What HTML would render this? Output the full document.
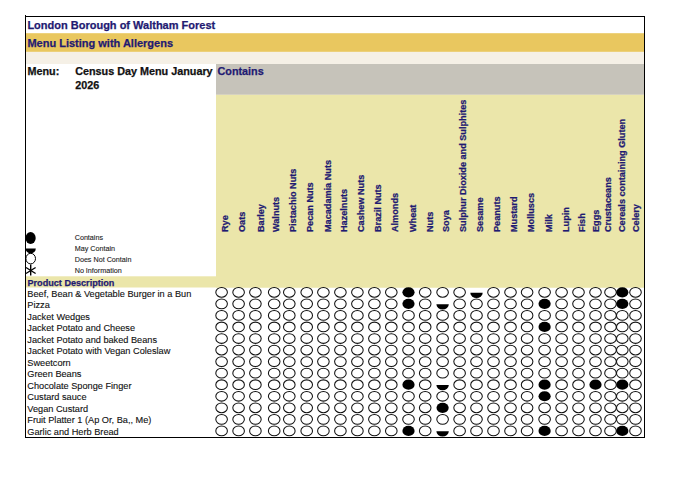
<!DOCTYPE html>
<html><head><meta charset="utf-8"><style>
html,body{margin:0;padding:0;background:#fff;}
body{width:690px;height:498px;overflow:hidden;position:relative;}
svg{position:absolute;left:0;top:0;}
text{font-family:"Liberation Sans",sans-serif;}
.b{stroke-width:0.25px;}
</style></head><body>
<svg width="690" height="498" viewBox="0 0 690 498">

<rect x="25" y="33.2" width="620" height="18.7" fill="#e9c75f"/>
<rect x="25" y="51.9" width="620" height="12.1" fill="#f5f0e6"/>
<rect x="216" y="64" width="429" height="30.8" fill="#c6c3ba"/>
<rect x="216" y="94.8" width="429" height="192.7" fill="#ebe6aa"/>
<rect x="25" y="276.3" width="620" height="11.2" fill="#ebe6aa"/>
<rect x="25" y="16" width="620" height="1" fill="#000"/>
<rect x="25" y="15" width="1" height="423" fill="#000"/>
<rect x="644" y="16" width="1" height="422" fill="#000"/>
<rect x="25" y="437" width="620" height="1" fill="#000"/>
<text x="27.4" y="28.7" font-size="11" font-weight="bold" stroke="#1f1a72" stroke-width="0.25" fill="#1f1a72">London Borough of Waltham Forest</text>
<text x="27.4" y="46.5" font-size="11" font-weight="bold" stroke="#1f1a72" stroke-width="0.25" fill="#1f1a72">Menu Listing with Allergens</text>
<text x="27.5" y="74.8" font-size="10.8" font-weight="bold" stroke="#111" stroke-width="0.25" fill="#111">Menu:</text>
<text x="75.2" y="74.8" font-size="10.8" font-weight="bold" stroke="#111" stroke-width="0.25" fill="#111">Census Day Menu January</text>
<text x="75.2" y="89" font-size="10.8" font-weight="bold" stroke="#111" stroke-width="0.25" fill="#111">2026</text>
<text x="217.5" y="74.9" font-size="10.8" font-weight="bold" stroke="#1f1a72" stroke-width="0.25" fill="#1f1a72">Contains</text>
<text transform="translate(227.95,232) rotate(-90)" font-size="9.15" font-weight="bold" stroke="#1f1a72" stroke-width="0.25" fill="#1f1a72">Rye</text>
<text transform="translate(244.65,232) rotate(-90)" font-size="9.15" font-weight="bold" stroke="#1f1a72" stroke-width="0.25" fill="#1f1a72">Oats</text>
<text transform="translate(263.55,232) rotate(-90)" font-size="9.15" font-weight="bold" stroke="#1f1a72" stroke-width="0.25" fill="#1f1a72">Barley</text>
<text transform="translate(279.25,232) rotate(-90)" font-size="9.15" font-weight="bold" stroke="#1f1a72" stroke-width="0.25" fill="#1f1a72">Walnuts</text>
<text transform="translate(296.05,232) rotate(-90)" font-size="9.15" font-weight="bold" stroke="#1f1a72" stroke-width="0.25" fill="#1f1a72">Pistachio Nuts</text>
<text transform="translate(313.25,232) rotate(-90)" font-size="9.15" font-weight="bold" stroke="#1f1a72" stroke-width="0.25" fill="#1f1a72">Pecan Nuts</text>
<text transform="translate(330.55,232) rotate(-90)" font-size="9.15" font-weight="bold" stroke="#1f1a72" stroke-width="0.25" fill="#1f1a72">Macadamia Nuts</text>
<text transform="translate(347.35,232) rotate(-90)" font-size="9.15" font-weight="bold" stroke="#1f1a72" stroke-width="0.25" fill="#1f1a72">Hazelnuts</text>
<text transform="translate(364.35,232) rotate(-90)" font-size="9.15" font-weight="bold" stroke="#1f1a72" stroke-width="0.25" fill="#1f1a72">Cashew Nuts</text>
<text transform="translate(381.45,232) rotate(-90)" font-size="9.15" font-weight="bold" stroke="#1f1a72" stroke-width="0.25" fill="#1f1a72">Brazil Nuts</text>
<text transform="translate(398.25,232) rotate(-90)" font-size="9.15" font-weight="bold" stroke="#1f1a72" stroke-width="0.25" fill="#1f1a72">Almonds</text>
<text transform="translate(415.55,232) rotate(-90)" font-size="9.15" font-weight="bold" stroke="#1f1a72" stroke-width="0.25" fill="#1f1a72">Wheat</text>
<text transform="translate(432.55,232) rotate(-90)" font-size="9.15" font-weight="bold" stroke="#1f1a72" stroke-width="0.25" fill="#1f1a72">Nuts</text>
<text transform="translate(449.25,232) rotate(-90)" font-size="9.15" font-weight="bold" stroke="#1f1a72" stroke-width="0.25" fill="#1f1a72">Soya</text>
<text transform="translate(466.15,232) rotate(-90)" font-size="9.15" font-weight="bold" stroke="#1f1a72" stroke-width="0.25" fill="#1f1a72">Sulphur Dioxide and Sulphites</text>
<text transform="translate(483.05,232) rotate(-90)" font-size="9.15" font-weight="bold" stroke="#1f1a72" stroke-width="0.25" fill="#1f1a72">Sesame</text>
<text transform="translate(499.95,232) rotate(-90)" font-size="9.15" font-weight="bold" stroke="#1f1a72" stroke-width="0.25" fill="#1f1a72">Peanuts</text>
<text transform="translate(517.05,232) rotate(-90)" font-size="9.15" font-weight="bold" stroke="#1f1a72" stroke-width="0.25" fill="#1f1a72">Mustard</text>
<text transform="translate(534.35,232) rotate(-90)" font-size="9.15" font-weight="bold" stroke="#1f1a72" stroke-width="0.25" fill="#1f1a72">Molluscs</text>
<text transform="translate(551.65,232) rotate(-90)" font-size="9.15" font-weight="bold" stroke="#1f1a72" stroke-width="0.25" fill="#1f1a72">Milk</text>
<text transform="translate(568.55,232) rotate(-90)" font-size="9.15" font-weight="bold" stroke="#1f1a72" stroke-width="0.25" fill="#1f1a72">Lupin</text>
<text transform="translate(585.05,232) rotate(-90)" font-size="9.15" font-weight="bold" stroke="#1f1a72" stroke-width="0.25" fill="#1f1a72">Fish</text>
<text transform="translate(599.15,232) rotate(-90)" font-size="9.15" font-weight="bold" stroke="#1f1a72" stroke-width="0.25" fill="#1f1a72">Eggs</text>
<text transform="translate(610.95,232) rotate(-90)" font-size="9.15" font-weight="bold" stroke="#1f1a72" stroke-width="0.25" fill="#1f1a72">Crustaceans</text>
<text transform="translate(624.95,232) rotate(-90)" font-size="9.15" font-weight="bold" stroke="#1f1a72" stroke-width="0.25" fill="#1f1a72">Cereals containing Gluten</text>
<text transform="translate(639.25,232) rotate(-90)" font-size="9.15" font-weight="bold" stroke="#1f1a72" stroke-width="0.25" fill="#1f1a72">Celery</text>
<ellipse cx="30.6" cy="238" rx="5.1" ry="5.9" fill="#000"/>
<path d="M25.6 248.5 L35.8 248.5 A5.1 4.9 0 0 1 25.6 248.5 Z" fill="#000"/>
<ellipse cx="30.7" cy="258.6" rx="4.8" ry="5.3" fill="none" stroke="#000" stroke-width="1"/>
<g stroke="#000" stroke-width="1.4"><line x1="30.7" y1="264.5" x2="30.7" y2="275.5"/><line x1="26" y1="267.5" x2="35.6" y2="273.5"/><line x1="26" y1="273.5" x2="35.6" y2="267.5"/></g>
<text x="74.7" y="240.0" font-size="7.2" fill="#222" stroke="#222" stroke-width="0.1">Contains</text>
<text x="74.7" y="251.0" font-size="7.2" fill="#222" stroke="#222" stroke-width="0.1">May Contain</text>
<text x="74.7" y="262.0" font-size="7.2" fill="#222" stroke="#222" stroke-width="0.1">Does Not Contain</text>
<text x="74.7" y="273.0" font-size="7.2" fill="#222" stroke="#222" stroke-width="0.1">No Information</text>
<text x="27.5" y="285.7" font-size="9.1" font-weight="bold" stroke="#1f1a72" stroke-width="0.25" fill="#1f1a72">Product Description</text>
<text x="27.3" y="296.70" font-size="9.2" fill="#111" stroke="#111" stroke-width="0.12">Beef, Bean &amp; Vegetable Burger in a Bun</text>
<ellipse cx="221.6" cy="292.30" rx="5.8" ry="4.85" fill="none" stroke="#111" stroke-width="1.05"/>
<ellipse cx="238.6" cy="292.30" rx="5.8" ry="4.85" fill="none" stroke="#111" stroke-width="1.05"/>
<ellipse cx="255.4" cy="292.30" rx="5.8" ry="4.85" fill="none" stroke="#111" stroke-width="1.05"/>
<ellipse cx="274.2" cy="292.30" rx="5.8" ry="4.85" fill="none" stroke="#111" stroke-width="1.05"/>
<ellipse cx="289.3" cy="292.30" rx="5.8" ry="4.85" fill="none" stroke="#111" stroke-width="1.05"/>
<ellipse cx="306.7" cy="292.30" rx="5.8" ry="4.85" fill="none" stroke="#111" stroke-width="1.05"/>
<ellipse cx="323.4" cy="292.30" rx="5.8" ry="4.85" fill="none" stroke="#111" stroke-width="1.05"/>
<ellipse cx="340.4" cy="292.30" rx="5.8" ry="4.85" fill="none" stroke="#111" stroke-width="1.05"/>
<ellipse cx="357.4" cy="292.30" rx="5.8" ry="4.85" fill="none" stroke="#111" stroke-width="1.05"/>
<ellipse cx="374.4" cy="292.30" rx="5.8" ry="4.85" fill="none" stroke="#111" stroke-width="1.05"/>
<ellipse cx="391.3" cy="292.30" rx="5.8" ry="4.85" fill="none" stroke="#111" stroke-width="1.05"/>
<ellipse cx="408.5" cy="292.30" rx="6.1" ry="5.1" fill="#000"/>
<ellipse cx="425.2" cy="292.30" rx="5.8" ry="4.85" fill="none" stroke="#111" stroke-width="1.05"/>
<ellipse cx="442.6" cy="292.30" rx="5.8" ry="4.85" fill="none" stroke="#111" stroke-width="1.05"/>
<ellipse cx="459.6" cy="292.30" rx="5.8" ry="4.85" fill="none" stroke="#111" stroke-width="1.05"/>
<path d="M470.30 292.70 L482.70 292.70 A6.2 5.2 0 0 1 470.30 292.70 Z" fill="#000"/>
<ellipse cx="493.5" cy="292.30" rx="5.8" ry="4.85" fill="none" stroke="#111" stroke-width="1.05"/>
<ellipse cx="510.5" cy="292.30" rx="5.8" ry="4.85" fill="none" stroke="#111" stroke-width="1.05"/>
<ellipse cx="527.1" cy="292.30" rx="5.8" ry="4.85" fill="none" stroke="#111" stroke-width="1.05"/>
<ellipse cx="544.6" cy="292.30" rx="5.8" ry="4.85" fill="none" stroke="#111" stroke-width="1.05"/>
<ellipse cx="561.6" cy="292.30" rx="5.8" ry="4.85" fill="none" stroke="#111" stroke-width="1.05"/>
<ellipse cx="578.5" cy="292.30" rx="5.8" ry="4.85" fill="none" stroke="#111" stroke-width="1.05"/>
<ellipse cx="595.5" cy="292.30" rx="5.8" ry="4.85" fill="none" stroke="#111" stroke-width="1.05"/>
<ellipse cx="610.5" cy="292.30" rx="5.8" ry="4.85" fill="none" stroke="#111" stroke-width="1.05"/>
<ellipse cx="622.3" cy="292.30" rx="6.1" ry="5.1" fill="#000"/>
<ellipse cx="635.5" cy="292.30" rx="5.8" ry="4.85" fill="none" stroke="#111" stroke-width="1.05"/>
<text x="27.3" y="307.60" font-size="9.2" fill="#111" stroke="#111" stroke-width="0.12">Pizza</text>
<ellipse cx="221.6" cy="303.85" rx="5.8" ry="4.85" fill="none" stroke="#111" stroke-width="1.05"/>
<ellipse cx="238.6" cy="303.85" rx="5.8" ry="4.85" fill="none" stroke="#111" stroke-width="1.05"/>
<ellipse cx="255.4" cy="303.85" rx="5.8" ry="4.85" fill="none" stroke="#111" stroke-width="1.05"/>
<ellipse cx="274.2" cy="303.85" rx="5.8" ry="4.85" fill="none" stroke="#111" stroke-width="1.05"/>
<ellipse cx="289.3" cy="303.85" rx="5.8" ry="4.85" fill="none" stroke="#111" stroke-width="1.05"/>
<ellipse cx="306.7" cy="303.85" rx="5.8" ry="4.85" fill="none" stroke="#111" stroke-width="1.05"/>
<ellipse cx="323.4" cy="303.85" rx="5.8" ry="4.85" fill="none" stroke="#111" stroke-width="1.05"/>
<ellipse cx="340.4" cy="303.85" rx="5.8" ry="4.85" fill="none" stroke="#111" stroke-width="1.05"/>
<ellipse cx="357.4" cy="303.85" rx="5.8" ry="4.85" fill="none" stroke="#111" stroke-width="1.05"/>
<ellipse cx="374.4" cy="303.85" rx="5.8" ry="4.85" fill="none" stroke="#111" stroke-width="1.05"/>
<ellipse cx="391.3" cy="303.85" rx="5.8" ry="4.85" fill="none" stroke="#111" stroke-width="1.05"/>
<ellipse cx="408.5" cy="303.85" rx="6.1" ry="5.1" fill="#000"/>
<ellipse cx="425.2" cy="303.85" rx="5.8" ry="4.85" fill="none" stroke="#111" stroke-width="1.05"/>
<path d="M436.40 304.25 L448.80 304.25 A6.2 5.2 0 0 1 436.40 304.25 Z" fill="#000"/>
<ellipse cx="459.6" cy="303.85" rx="5.8" ry="4.85" fill="none" stroke="#111" stroke-width="1.05"/>
<ellipse cx="476.5" cy="303.85" rx="5.8" ry="4.85" fill="none" stroke="#111" stroke-width="1.05"/>
<ellipse cx="493.5" cy="303.85" rx="5.8" ry="4.85" fill="none" stroke="#111" stroke-width="1.05"/>
<ellipse cx="510.5" cy="303.85" rx="5.8" ry="4.85" fill="none" stroke="#111" stroke-width="1.05"/>
<ellipse cx="527.1" cy="303.85" rx="5.8" ry="4.85" fill="none" stroke="#111" stroke-width="1.05"/>
<ellipse cx="544.6" cy="303.85" rx="6.1" ry="5.1" fill="#000"/>
<ellipse cx="561.6" cy="303.85" rx="5.8" ry="4.85" fill="none" stroke="#111" stroke-width="1.05"/>
<ellipse cx="578.5" cy="303.85" rx="5.8" ry="4.85" fill="none" stroke="#111" stroke-width="1.05"/>
<ellipse cx="595.5" cy="303.85" rx="5.8" ry="4.85" fill="none" stroke="#111" stroke-width="1.05"/>
<ellipse cx="610.5" cy="303.85" rx="5.8" ry="4.85" fill="none" stroke="#111" stroke-width="1.05"/>
<ellipse cx="622.3" cy="303.85" rx="6.1" ry="5.1" fill="#000"/>
<ellipse cx="635.5" cy="303.85" rx="5.8" ry="4.85" fill="none" stroke="#111" stroke-width="1.05"/>
<text x="27.3" y="319.50" font-size="9.2" fill="#111" stroke="#111" stroke-width="0.12">Jacket Wedges</text>
<ellipse cx="221.6" cy="315.40" rx="5.8" ry="4.85" fill="none" stroke="#111" stroke-width="1.05"/>
<ellipse cx="238.6" cy="315.40" rx="5.8" ry="4.85" fill="none" stroke="#111" stroke-width="1.05"/>
<ellipse cx="255.4" cy="315.40" rx="5.8" ry="4.85" fill="none" stroke="#111" stroke-width="1.05"/>
<ellipse cx="274.2" cy="315.40" rx="5.8" ry="4.85" fill="none" stroke="#111" stroke-width="1.05"/>
<ellipse cx="289.3" cy="315.40" rx="5.8" ry="4.85" fill="none" stroke="#111" stroke-width="1.05"/>
<ellipse cx="306.7" cy="315.40" rx="5.8" ry="4.85" fill="none" stroke="#111" stroke-width="1.05"/>
<ellipse cx="323.4" cy="315.40" rx="5.8" ry="4.85" fill="none" stroke="#111" stroke-width="1.05"/>
<ellipse cx="340.4" cy="315.40" rx="5.8" ry="4.85" fill="none" stroke="#111" stroke-width="1.05"/>
<ellipse cx="357.4" cy="315.40" rx="5.8" ry="4.85" fill="none" stroke="#111" stroke-width="1.05"/>
<ellipse cx="374.4" cy="315.40" rx="5.8" ry="4.85" fill="none" stroke="#111" stroke-width="1.05"/>
<ellipse cx="391.3" cy="315.40" rx="5.8" ry="4.85" fill="none" stroke="#111" stroke-width="1.05"/>
<ellipse cx="408.5" cy="315.40" rx="5.8" ry="4.85" fill="none" stroke="#111" stroke-width="1.05"/>
<ellipse cx="425.2" cy="315.40" rx="5.8" ry="4.85" fill="none" stroke="#111" stroke-width="1.05"/>
<ellipse cx="442.6" cy="315.40" rx="5.8" ry="4.85" fill="none" stroke="#111" stroke-width="1.05"/>
<ellipse cx="459.6" cy="315.40" rx="5.8" ry="4.85" fill="none" stroke="#111" stroke-width="1.05"/>
<ellipse cx="476.5" cy="315.40" rx="5.8" ry="4.85" fill="none" stroke="#111" stroke-width="1.05"/>
<ellipse cx="493.5" cy="315.40" rx="5.8" ry="4.85" fill="none" stroke="#111" stroke-width="1.05"/>
<ellipse cx="510.5" cy="315.40" rx="5.8" ry="4.85" fill="none" stroke="#111" stroke-width="1.05"/>
<ellipse cx="527.1" cy="315.40" rx="5.8" ry="4.85" fill="none" stroke="#111" stroke-width="1.05"/>
<ellipse cx="544.6" cy="315.40" rx="5.8" ry="4.85" fill="none" stroke="#111" stroke-width="1.05"/>
<ellipse cx="561.6" cy="315.40" rx="5.8" ry="4.85" fill="none" stroke="#111" stroke-width="1.05"/>
<ellipse cx="578.5" cy="315.40" rx="5.8" ry="4.85" fill="none" stroke="#111" stroke-width="1.05"/>
<ellipse cx="595.5" cy="315.40" rx="5.8" ry="4.85" fill="none" stroke="#111" stroke-width="1.05"/>
<ellipse cx="610.5" cy="315.40" rx="5.8" ry="4.85" fill="none" stroke="#111" stroke-width="1.05"/>
<ellipse cx="622.3" cy="315.40" rx="5.8" ry="4.85" fill="none" stroke="#111" stroke-width="1.05"/>
<ellipse cx="635.5" cy="315.40" rx="5.8" ry="4.85" fill="none" stroke="#111" stroke-width="1.05"/>
<text x="27.3" y="330.50" font-size="9.2" fill="#111" stroke="#111" stroke-width="0.12">Jacket Potato and Cheese</text>
<ellipse cx="221.6" cy="326.95" rx="5.8" ry="4.85" fill="none" stroke="#111" stroke-width="1.05"/>
<ellipse cx="238.6" cy="326.95" rx="5.8" ry="4.85" fill="none" stroke="#111" stroke-width="1.05"/>
<ellipse cx="255.4" cy="326.95" rx="5.8" ry="4.85" fill="none" stroke="#111" stroke-width="1.05"/>
<ellipse cx="274.2" cy="326.95" rx="5.8" ry="4.85" fill="none" stroke="#111" stroke-width="1.05"/>
<ellipse cx="289.3" cy="326.95" rx="5.8" ry="4.85" fill="none" stroke="#111" stroke-width="1.05"/>
<ellipse cx="306.7" cy="326.95" rx="5.8" ry="4.85" fill="none" stroke="#111" stroke-width="1.05"/>
<ellipse cx="323.4" cy="326.95" rx="5.8" ry="4.85" fill="none" stroke="#111" stroke-width="1.05"/>
<ellipse cx="340.4" cy="326.95" rx="5.8" ry="4.85" fill="none" stroke="#111" stroke-width="1.05"/>
<ellipse cx="357.4" cy="326.95" rx="5.8" ry="4.85" fill="none" stroke="#111" stroke-width="1.05"/>
<ellipse cx="374.4" cy="326.95" rx="5.8" ry="4.85" fill="none" stroke="#111" stroke-width="1.05"/>
<ellipse cx="391.3" cy="326.95" rx="5.8" ry="4.85" fill="none" stroke="#111" stroke-width="1.05"/>
<ellipse cx="408.5" cy="326.95" rx="5.8" ry="4.85" fill="none" stroke="#111" stroke-width="1.05"/>
<ellipse cx="425.2" cy="326.95" rx="5.8" ry="4.85" fill="none" stroke="#111" stroke-width="1.05"/>
<ellipse cx="442.6" cy="326.95" rx="5.8" ry="4.85" fill="none" stroke="#111" stroke-width="1.05"/>
<ellipse cx="459.6" cy="326.95" rx="5.8" ry="4.85" fill="none" stroke="#111" stroke-width="1.05"/>
<ellipse cx="476.5" cy="326.95" rx="5.8" ry="4.85" fill="none" stroke="#111" stroke-width="1.05"/>
<ellipse cx="493.5" cy="326.95" rx="5.8" ry="4.85" fill="none" stroke="#111" stroke-width="1.05"/>
<ellipse cx="510.5" cy="326.95" rx="5.8" ry="4.85" fill="none" stroke="#111" stroke-width="1.05"/>
<ellipse cx="527.1" cy="326.95" rx="5.8" ry="4.85" fill="none" stroke="#111" stroke-width="1.05"/>
<ellipse cx="544.6" cy="326.95" rx="6.1" ry="5.1" fill="#000"/>
<ellipse cx="561.6" cy="326.95" rx="5.8" ry="4.85" fill="none" stroke="#111" stroke-width="1.05"/>
<ellipse cx="578.5" cy="326.95" rx="5.8" ry="4.85" fill="none" stroke="#111" stroke-width="1.05"/>
<ellipse cx="595.5" cy="326.95" rx="5.8" ry="4.85" fill="none" stroke="#111" stroke-width="1.05"/>
<ellipse cx="610.5" cy="326.95" rx="5.8" ry="4.85" fill="none" stroke="#111" stroke-width="1.05"/>
<ellipse cx="622.3" cy="326.95" rx="5.8" ry="4.85" fill="none" stroke="#111" stroke-width="1.05"/>
<ellipse cx="635.5" cy="326.95" rx="5.8" ry="4.85" fill="none" stroke="#111" stroke-width="1.05"/>
<text x="27.3" y="342.50" font-size="9.2" fill="#111" stroke="#111" stroke-width="0.12">Jacket Potato and baked Beans</text>
<ellipse cx="221.6" cy="338.50" rx="5.8" ry="4.85" fill="none" stroke="#111" stroke-width="1.05"/>
<ellipse cx="238.6" cy="338.50" rx="5.8" ry="4.85" fill="none" stroke="#111" stroke-width="1.05"/>
<ellipse cx="255.4" cy="338.50" rx="5.8" ry="4.85" fill="none" stroke="#111" stroke-width="1.05"/>
<ellipse cx="274.2" cy="338.50" rx="5.8" ry="4.85" fill="none" stroke="#111" stroke-width="1.05"/>
<ellipse cx="289.3" cy="338.50" rx="5.8" ry="4.85" fill="none" stroke="#111" stroke-width="1.05"/>
<ellipse cx="306.7" cy="338.50" rx="5.8" ry="4.85" fill="none" stroke="#111" stroke-width="1.05"/>
<ellipse cx="323.4" cy="338.50" rx="5.8" ry="4.85" fill="none" stroke="#111" stroke-width="1.05"/>
<ellipse cx="340.4" cy="338.50" rx="5.8" ry="4.85" fill="none" stroke="#111" stroke-width="1.05"/>
<ellipse cx="357.4" cy="338.50" rx="5.8" ry="4.85" fill="none" stroke="#111" stroke-width="1.05"/>
<ellipse cx="374.4" cy="338.50" rx="5.8" ry="4.85" fill="none" stroke="#111" stroke-width="1.05"/>
<ellipse cx="391.3" cy="338.50" rx="5.8" ry="4.85" fill="none" stroke="#111" stroke-width="1.05"/>
<ellipse cx="408.5" cy="338.50" rx="5.8" ry="4.85" fill="none" stroke="#111" stroke-width="1.05"/>
<ellipse cx="425.2" cy="338.50" rx="5.8" ry="4.85" fill="none" stroke="#111" stroke-width="1.05"/>
<ellipse cx="442.6" cy="338.50" rx="5.8" ry="4.85" fill="none" stroke="#111" stroke-width="1.05"/>
<ellipse cx="459.6" cy="338.50" rx="5.8" ry="4.85" fill="none" stroke="#111" stroke-width="1.05"/>
<ellipse cx="476.5" cy="338.50" rx="5.8" ry="4.85" fill="none" stroke="#111" stroke-width="1.05"/>
<ellipse cx="493.5" cy="338.50" rx="5.8" ry="4.85" fill="none" stroke="#111" stroke-width="1.05"/>
<ellipse cx="510.5" cy="338.50" rx="5.8" ry="4.85" fill="none" stroke="#111" stroke-width="1.05"/>
<ellipse cx="527.1" cy="338.50" rx="5.8" ry="4.85" fill="none" stroke="#111" stroke-width="1.05"/>
<ellipse cx="544.6" cy="338.50" rx="5.8" ry="4.85" fill="none" stroke="#111" stroke-width="1.05"/>
<ellipse cx="561.6" cy="338.50" rx="5.8" ry="4.85" fill="none" stroke="#111" stroke-width="1.05"/>
<ellipse cx="578.5" cy="338.50" rx="5.8" ry="4.85" fill="none" stroke="#111" stroke-width="1.05"/>
<ellipse cx="595.5" cy="338.50" rx="5.8" ry="4.85" fill="none" stroke="#111" stroke-width="1.05"/>
<ellipse cx="610.5" cy="338.50" rx="5.8" ry="4.85" fill="none" stroke="#111" stroke-width="1.05"/>
<ellipse cx="622.3" cy="338.50" rx="5.8" ry="4.85" fill="none" stroke="#111" stroke-width="1.05"/>
<ellipse cx="635.5" cy="338.50" rx="5.8" ry="4.85" fill="none" stroke="#111" stroke-width="1.05"/>
<text x="27.3" y="353.80" font-size="9.2" fill="#111" stroke="#111" stroke-width="0.12">Jacket Potato with Vegan Coleslaw</text>
<ellipse cx="221.6" cy="350.05" rx="5.8" ry="4.85" fill="none" stroke="#111" stroke-width="1.05"/>
<ellipse cx="238.6" cy="350.05" rx="5.8" ry="4.85" fill="none" stroke="#111" stroke-width="1.05"/>
<ellipse cx="255.4" cy="350.05" rx="5.8" ry="4.85" fill="none" stroke="#111" stroke-width="1.05"/>
<ellipse cx="274.2" cy="350.05" rx="5.8" ry="4.85" fill="none" stroke="#111" stroke-width="1.05"/>
<ellipse cx="289.3" cy="350.05" rx="5.8" ry="4.85" fill="none" stroke="#111" stroke-width="1.05"/>
<ellipse cx="306.7" cy="350.05" rx="5.8" ry="4.85" fill="none" stroke="#111" stroke-width="1.05"/>
<ellipse cx="323.4" cy="350.05" rx="5.8" ry="4.85" fill="none" stroke="#111" stroke-width="1.05"/>
<ellipse cx="340.4" cy="350.05" rx="5.8" ry="4.85" fill="none" stroke="#111" stroke-width="1.05"/>
<ellipse cx="357.4" cy="350.05" rx="5.8" ry="4.85" fill="none" stroke="#111" stroke-width="1.05"/>
<ellipse cx="374.4" cy="350.05" rx="5.8" ry="4.85" fill="none" stroke="#111" stroke-width="1.05"/>
<ellipse cx="391.3" cy="350.05" rx="5.8" ry="4.85" fill="none" stroke="#111" stroke-width="1.05"/>
<ellipse cx="408.5" cy="350.05" rx="5.8" ry="4.85" fill="none" stroke="#111" stroke-width="1.05"/>
<ellipse cx="425.2" cy="350.05" rx="5.8" ry="4.85" fill="none" stroke="#111" stroke-width="1.05"/>
<ellipse cx="442.6" cy="350.05" rx="5.8" ry="4.85" fill="none" stroke="#111" stroke-width="1.05"/>
<ellipse cx="459.6" cy="350.05" rx="5.8" ry="4.85" fill="none" stroke="#111" stroke-width="1.05"/>
<ellipse cx="476.5" cy="350.05" rx="5.8" ry="4.85" fill="none" stroke="#111" stroke-width="1.05"/>
<ellipse cx="493.5" cy="350.05" rx="5.8" ry="4.85" fill="none" stroke="#111" stroke-width="1.05"/>
<ellipse cx="510.5" cy="350.05" rx="5.8" ry="4.85" fill="none" stroke="#111" stroke-width="1.05"/>
<ellipse cx="527.1" cy="350.05" rx="5.8" ry="4.85" fill="none" stroke="#111" stroke-width="1.05"/>
<ellipse cx="544.6" cy="350.05" rx="5.8" ry="4.85" fill="none" stroke="#111" stroke-width="1.05"/>
<ellipse cx="561.6" cy="350.05" rx="5.8" ry="4.85" fill="none" stroke="#111" stroke-width="1.05"/>
<ellipse cx="578.5" cy="350.05" rx="5.8" ry="4.85" fill="none" stroke="#111" stroke-width="1.05"/>
<ellipse cx="595.5" cy="350.05" rx="5.8" ry="4.85" fill="none" stroke="#111" stroke-width="1.05"/>
<ellipse cx="610.5" cy="350.05" rx="5.8" ry="4.85" fill="none" stroke="#111" stroke-width="1.05"/>
<ellipse cx="622.3" cy="350.05" rx="5.8" ry="4.85" fill="none" stroke="#111" stroke-width="1.05"/>
<ellipse cx="635.5" cy="350.05" rx="5.8" ry="4.85" fill="none" stroke="#111" stroke-width="1.05"/>
<text x="27.3" y="365.50" font-size="9.2" fill="#111" stroke="#111" stroke-width="0.12">Sweetcorn</text>
<ellipse cx="221.6" cy="361.60" rx="5.8" ry="4.85" fill="none" stroke="#111" stroke-width="1.05"/>
<ellipse cx="238.6" cy="361.60" rx="5.8" ry="4.85" fill="none" stroke="#111" stroke-width="1.05"/>
<ellipse cx="255.4" cy="361.60" rx="5.8" ry="4.85" fill="none" stroke="#111" stroke-width="1.05"/>
<ellipse cx="274.2" cy="361.60" rx="5.8" ry="4.85" fill="none" stroke="#111" stroke-width="1.05"/>
<ellipse cx="289.3" cy="361.60" rx="5.8" ry="4.85" fill="none" stroke="#111" stroke-width="1.05"/>
<ellipse cx="306.7" cy="361.60" rx="5.8" ry="4.85" fill="none" stroke="#111" stroke-width="1.05"/>
<ellipse cx="323.4" cy="361.60" rx="5.8" ry="4.85" fill="none" stroke="#111" stroke-width="1.05"/>
<ellipse cx="340.4" cy="361.60" rx="5.8" ry="4.85" fill="none" stroke="#111" stroke-width="1.05"/>
<ellipse cx="357.4" cy="361.60" rx="5.8" ry="4.85" fill="none" stroke="#111" stroke-width="1.05"/>
<ellipse cx="374.4" cy="361.60" rx="5.8" ry="4.85" fill="none" stroke="#111" stroke-width="1.05"/>
<ellipse cx="391.3" cy="361.60" rx="5.8" ry="4.85" fill="none" stroke="#111" stroke-width="1.05"/>
<ellipse cx="408.5" cy="361.60" rx="5.8" ry="4.85" fill="none" stroke="#111" stroke-width="1.05"/>
<ellipse cx="425.2" cy="361.60" rx="5.8" ry="4.85" fill="none" stroke="#111" stroke-width="1.05"/>
<ellipse cx="442.6" cy="361.60" rx="5.8" ry="4.85" fill="none" stroke="#111" stroke-width="1.05"/>
<ellipse cx="459.6" cy="361.60" rx="5.8" ry="4.85" fill="none" stroke="#111" stroke-width="1.05"/>
<ellipse cx="476.5" cy="361.60" rx="5.8" ry="4.85" fill="none" stroke="#111" stroke-width="1.05"/>
<ellipse cx="493.5" cy="361.60" rx="5.8" ry="4.85" fill="none" stroke="#111" stroke-width="1.05"/>
<ellipse cx="510.5" cy="361.60" rx="5.8" ry="4.85" fill="none" stroke="#111" stroke-width="1.05"/>
<ellipse cx="527.1" cy="361.60" rx="5.8" ry="4.85" fill="none" stroke="#111" stroke-width="1.05"/>
<ellipse cx="544.6" cy="361.60" rx="5.8" ry="4.85" fill="none" stroke="#111" stroke-width="1.05"/>
<ellipse cx="561.6" cy="361.60" rx="5.8" ry="4.85" fill="none" stroke="#111" stroke-width="1.05"/>
<ellipse cx="578.5" cy="361.60" rx="5.8" ry="4.85" fill="none" stroke="#111" stroke-width="1.05"/>
<ellipse cx="595.5" cy="361.60" rx="5.8" ry="4.85" fill="none" stroke="#111" stroke-width="1.05"/>
<ellipse cx="610.5" cy="361.60" rx="5.8" ry="4.85" fill="none" stroke="#111" stroke-width="1.05"/>
<ellipse cx="622.3" cy="361.60" rx="5.8" ry="4.85" fill="none" stroke="#111" stroke-width="1.05"/>
<ellipse cx="635.5" cy="361.60" rx="5.8" ry="4.85" fill="none" stroke="#111" stroke-width="1.05"/>
<text x="27.3" y="376.70" font-size="9.2" fill="#111" stroke="#111" stroke-width="0.12">Green Beans</text>
<ellipse cx="221.6" cy="373.15" rx="5.8" ry="4.85" fill="none" stroke="#111" stroke-width="1.05"/>
<ellipse cx="238.6" cy="373.15" rx="5.8" ry="4.85" fill="none" stroke="#111" stroke-width="1.05"/>
<ellipse cx="255.4" cy="373.15" rx="5.8" ry="4.85" fill="none" stroke="#111" stroke-width="1.05"/>
<ellipse cx="274.2" cy="373.15" rx="5.8" ry="4.85" fill="none" stroke="#111" stroke-width="1.05"/>
<ellipse cx="289.3" cy="373.15" rx="5.8" ry="4.85" fill="none" stroke="#111" stroke-width="1.05"/>
<ellipse cx="306.7" cy="373.15" rx="5.8" ry="4.85" fill="none" stroke="#111" stroke-width="1.05"/>
<ellipse cx="323.4" cy="373.15" rx="5.8" ry="4.85" fill="none" stroke="#111" stroke-width="1.05"/>
<ellipse cx="340.4" cy="373.15" rx="5.8" ry="4.85" fill="none" stroke="#111" stroke-width="1.05"/>
<ellipse cx="357.4" cy="373.15" rx="5.8" ry="4.85" fill="none" stroke="#111" stroke-width="1.05"/>
<ellipse cx="374.4" cy="373.15" rx="5.8" ry="4.85" fill="none" stroke="#111" stroke-width="1.05"/>
<ellipse cx="391.3" cy="373.15" rx="5.8" ry="4.85" fill="none" stroke="#111" stroke-width="1.05"/>
<ellipse cx="408.5" cy="373.15" rx="5.8" ry="4.85" fill="none" stroke="#111" stroke-width="1.05"/>
<ellipse cx="425.2" cy="373.15" rx="5.8" ry="4.85" fill="none" stroke="#111" stroke-width="1.05"/>
<ellipse cx="442.6" cy="373.15" rx="5.8" ry="4.85" fill="none" stroke="#111" stroke-width="1.05"/>
<ellipse cx="459.6" cy="373.15" rx="5.8" ry="4.85" fill="none" stroke="#111" stroke-width="1.05"/>
<ellipse cx="476.5" cy="373.15" rx="5.8" ry="4.85" fill="none" stroke="#111" stroke-width="1.05"/>
<ellipse cx="493.5" cy="373.15" rx="5.8" ry="4.85" fill="none" stroke="#111" stroke-width="1.05"/>
<ellipse cx="510.5" cy="373.15" rx="5.8" ry="4.85" fill="none" stroke="#111" stroke-width="1.05"/>
<ellipse cx="527.1" cy="373.15" rx="5.8" ry="4.85" fill="none" stroke="#111" stroke-width="1.05"/>
<ellipse cx="544.6" cy="373.15" rx="5.8" ry="4.85" fill="none" stroke="#111" stroke-width="1.05"/>
<ellipse cx="561.6" cy="373.15" rx="5.8" ry="4.85" fill="none" stroke="#111" stroke-width="1.05"/>
<ellipse cx="578.5" cy="373.15" rx="5.8" ry="4.85" fill="none" stroke="#111" stroke-width="1.05"/>
<ellipse cx="595.5" cy="373.15" rx="5.8" ry="4.85" fill="none" stroke="#111" stroke-width="1.05"/>
<ellipse cx="610.5" cy="373.15" rx="5.8" ry="4.85" fill="none" stroke="#111" stroke-width="1.05"/>
<ellipse cx="622.3" cy="373.15" rx="5.8" ry="4.85" fill="none" stroke="#111" stroke-width="1.05"/>
<ellipse cx="635.5" cy="373.15" rx="5.8" ry="4.85" fill="none" stroke="#111" stroke-width="1.05"/>
<text x="27.3" y="388.70" font-size="9.2" fill="#111" stroke="#111" stroke-width="0.12">Chocolate Sponge Finger</text>
<ellipse cx="221.6" cy="384.70" rx="5.8" ry="4.85" fill="none" stroke="#111" stroke-width="1.05"/>
<ellipse cx="238.6" cy="384.70" rx="5.8" ry="4.85" fill="none" stroke="#111" stroke-width="1.05"/>
<ellipse cx="255.4" cy="384.70" rx="5.8" ry="4.85" fill="none" stroke="#111" stroke-width="1.05"/>
<ellipse cx="274.2" cy="384.70" rx="5.8" ry="4.85" fill="none" stroke="#111" stroke-width="1.05"/>
<ellipse cx="289.3" cy="384.70" rx="5.8" ry="4.85" fill="none" stroke="#111" stroke-width="1.05"/>
<ellipse cx="306.7" cy="384.70" rx="5.8" ry="4.85" fill="none" stroke="#111" stroke-width="1.05"/>
<ellipse cx="323.4" cy="384.70" rx="5.8" ry="4.85" fill="none" stroke="#111" stroke-width="1.05"/>
<ellipse cx="340.4" cy="384.70" rx="5.8" ry="4.85" fill="none" stroke="#111" stroke-width="1.05"/>
<ellipse cx="357.4" cy="384.70" rx="5.8" ry="4.85" fill="none" stroke="#111" stroke-width="1.05"/>
<ellipse cx="374.4" cy="384.70" rx="5.8" ry="4.85" fill="none" stroke="#111" stroke-width="1.05"/>
<ellipse cx="391.3" cy="384.70" rx="5.8" ry="4.85" fill="none" stroke="#111" stroke-width="1.05"/>
<ellipse cx="408.5" cy="384.70" rx="6.1" ry="5.1" fill="#000"/>
<ellipse cx="425.2" cy="384.70" rx="5.8" ry="4.85" fill="none" stroke="#111" stroke-width="1.05"/>
<path d="M436.40 385.10 L448.80 385.10 A6.2 5.2 0 0 1 436.40 385.10 Z" fill="#000"/>
<ellipse cx="459.6" cy="384.70" rx="5.8" ry="4.85" fill="none" stroke="#111" stroke-width="1.05"/>
<ellipse cx="476.5" cy="384.70" rx="5.8" ry="4.85" fill="none" stroke="#111" stroke-width="1.05"/>
<ellipse cx="493.5" cy="384.70" rx="5.8" ry="4.85" fill="none" stroke="#111" stroke-width="1.05"/>
<ellipse cx="510.5" cy="384.70" rx="5.8" ry="4.85" fill="none" stroke="#111" stroke-width="1.05"/>
<ellipse cx="527.1" cy="384.70" rx="5.8" ry="4.85" fill="none" stroke="#111" stroke-width="1.05"/>
<ellipse cx="544.6" cy="384.70" rx="6.1" ry="5.1" fill="#000"/>
<ellipse cx="561.6" cy="384.70" rx="5.8" ry="4.85" fill="none" stroke="#111" stroke-width="1.05"/>
<ellipse cx="578.5" cy="384.70" rx="5.8" ry="4.85" fill="none" stroke="#111" stroke-width="1.05"/>
<ellipse cx="595.5" cy="384.70" rx="6.1" ry="5.1" fill="#000"/>
<ellipse cx="610.5" cy="384.70" rx="5.8" ry="4.85" fill="none" stroke="#111" stroke-width="1.05"/>
<ellipse cx="622.3" cy="384.70" rx="6.1" ry="5.1" fill="#000"/>
<ellipse cx="635.5" cy="384.70" rx="5.8" ry="4.85" fill="none" stroke="#111" stroke-width="1.05"/>
<text x="27.3" y="399.60" font-size="9.2" fill="#111" stroke="#111" stroke-width="0.12">Custard sauce</text>
<ellipse cx="221.6" cy="396.25" rx="5.8" ry="4.85" fill="none" stroke="#111" stroke-width="1.05"/>
<ellipse cx="238.6" cy="396.25" rx="5.8" ry="4.85" fill="none" stroke="#111" stroke-width="1.05"/>
<ellipse cx="255.4" cy="396.25" rx="5.8" ry="4.85" fill="none" stroke="#111" stroke-width="1.05"/>
<ellipse cx="274.2" cy="396.25" rx="5.8" ry="4.85" fill="none" stroke="#111" stroke-width="1.05"/>
<ellipse cx="289.3" cy="396.25" rx="5.8" ry="4.85" fill="none" stroke="#111" stroke-width="1.05"/>
<ellipse cx="306.7" cy="396.25" rx="5.8" ry="4.85" fill="none" stroke="#111" stroke-width="1.05"/>
<ellipse cx="323.4" cy="396.25" rx="5.8" ry="4.85" fill="none" stroke="#111" stroke-width="1.05"/>
<ellipse cx="340.4" cy="396.25" rx="5.8" ry="4.85" fill="none" stroke="#111" stroke-width="1.05"/>
<ellipse cx="357.4" cy="396.25" rx="5.8" ry="4.85" fill="none" stroke="#111" stroke-width="1.05"/>
<ellipse cx="374.4" cy="396.25" rx="5.8" ry="4.85" fill="none" stroke="#111" stroke-width="1.05"/>
<ellipse cx="391.3" cy="396.25" rx="5.8" ry="4.85" fill="none" stroke="#111" stroke-width="1.05"/>
<ellipse cx="408.5" cy="396.25" rx="5.8" ry="4.85" fill="none" stroke="#111" stroke-width="1.05"/>
<ellipse cx="425.2" cy="396.25" rx="5.8" ry="4.85" fill="none" stroke="#111" stroke-width="1.05"/>
<ellipse cx="442.6" cy="396.25" rx="5.8" ry="4.85" fill="none" stroke="#111" stroke-width="1.05"/>
<ellipse cx="459.6" cy="396.25" rx="5.8" ry="4.85" fill="none" stroke="#111" stroke-width="1.05"/>
<ellipse cx="476.5" cy="396.25" rx="5.8" ry="4.85" fill="none" stroke="#111" stroke-width="1.05"/>
<ellipse cx="493.5" cy="396.25" rx="5.8" ry="4.85" fill="none" stroke="#111" stroke-width="1.05"/>
<ellipse cx="510.5" cy="396.25" rx="5.8" ry="4.85" fill="none" stroke="#111" stroke-width="1.05"/>
<ellipse cx="527.1" cy="396.25" rx="5.8" ry="4.85" fill="none" stroke="#111" stroke-width="1.05"/>
<ellipse cx="544.6" cy="396.25" rx="6.1" ry="5.1" fill="#000"/>
<ellipse cx="561.6" cy="396.25" rx="5.8" ry="4.85" fill="none" stroke="#111" stroke-width="1.05"/>
<ellipse cx="578.5" cy="396.25" rx="5.8" ry="4.85" fill="none" stroke="#111" stroke-width="1.05"/>
<ellipse cx="595.5" cy="396.25" rx="5.8" ry="4.85" fill="none" stroke="#111" stroke-width="1.05"/>
<ellipse cx="610.5" cy="396.25" rx="5.8" ry="4.85" fill="none" stroke="#111" stroke-width="1.05"/>
<ellipse cx="622.3" cy="396.25" rx="5.8" ry="4.85" fill="none" stroke="#111" stroke-width="1.05"/>
<ellipse cx="635.5" cy="396.25" rx="5.8" ry="4.85" fill="none" stroke="#111" stroke-width="1.05"/>
<text x="27.3" y="411.50" font-size="9.2" fill="#111" stroke="#111" stroke-width="0.12">Vegan Custard</text>
<ellipse cx="221.6" cy="407.80" rx="5.8" ry="4.85" fill="none" stroke="#111" stroke-width="1.05"/>
<ellipse cx="238.6" cy="407.80" rx="5.8" ry="4.85" fill="none" stroke="#111" stroke-width="1.05"/>
<ellipse cx="255.4" cy="407.80" rx="5.8" ry="4.85" fill="none" stroke="#111" stroke-width="1.05"/>
<ellipse cx="274.2" cy="407.80" rx="5.8" ry="4.85" fill="none" stroke="#111" stroke-width="1.05"/>
<ellipse cx="289.3" cy="407.80" rx="5.8" ry="4.85" fill="none" stroke="#111" stroke-width="1.05"/>
<ellipse cx="306.7" cy="407.80" rx="5.8" ry="4.85" fill="none" stroke="#111" stroke-width="1.05"/>
<ellipse cx="323.4" cy="407.80" rx="5.8" ry="4.85" fill="none" stroke="#111" stroke-width="1.05"/>
<ellipse cx="340.4" cy="407.80" rx="5.8" ry="4.85" fill="none" stroke="#111" stroke-width="1.05"/>
<ellipse cx="357.4" cy="407.80" rx="5.8" ry="4.85" fill="none" stroke="#111" stroke-width="1.05"/>
<ellipse cx="374.4" cy="407.80" rx="5.8" ry="4.85" fill="none" stroke="#111" stroke-width="1.05"/>
<ellipse cx="391.3" cy="407.80" rx="5.8" ry="4.85" fill="none" stroke="#111" stroke-width="1.05"/>
<ellipse cx="408.5" cy="407.80" rx="5.8" ry="4.85" fill="none" stroke="#111" stroke-width="1.05"/>
<ellipse cx="425.2" cy="407.80" rx="5.8" ry="4.85" fill="none" stroke="#111" stroke-width="1.05"/>
<ellipse cx="442.6" cy="407.80" rx="6.1" ry="5.1" fill="#000"/>
<ellipse cx="459.6" cy="407.80" rx="5.8" ry="4.85" fill="none" stroke="#111" stroke-width="1.05"/>
<ellipse cx="476.5" cy="407.80" rx="5.8" ry="4.85" fill="none" stroke="#111" stroke-width="1.05"/>
<ellipse cx="493.5" cy="407.80" rx="5.8" ry="4.85" fill="none" stroke="#111" stroke-width="1.05"/>
<ellipse cx="510.5" cy="407.80" rx="5.8" ry="4.85" fill="none" stroke="#111" stroke-width="1.05"/>
<ellipse cx="527.1" cy="407.80" rx="5.8" ry="4.85" fill="none" stroke="#111" stroke-width="1.05"/>
<ellipse cx="544.6" cy="407.80" rx="5.8" ry="4.85" fill="none" stroke="#111" stroke-width="1.05"/>
<ellipse cx="561.6" cy="407.80" rx="5.8" ry="4.85" fill="none" stroke="#111" stroke-width="1.05"/>
<ellipse cx="578.5" cy="407.80" rx="5.8" ry="4.85" fill="none" stroke="#111" stroke-width="1.05"/>
<ellipse cx="595.5" cy="407.80" rx="5.8" ry="4.85" fill="none" stroke="#111" stroke-width="1.05"/>
<ellipse cx="610.5" cy="407.80" rx="5.8" ry="4.85" fill="none" stroke="#111" stroke-width="1.05"/>
<ellipse cx="622.3" cy="407.80" rx="5.8" ry="4.85" fill="none" stroke="#111" stroke-width="1.05"/>
<ellipse cx="635.5" cy="407.80" rx="5.8" ry="4.85" fill="none" stroke="#111" stroke-width="1.05"/>
<text x="27.3" y="423.30" font-size="9.2" fill="#111" stroke="#111" stroke-width="0.12">Fruit Platter 1 (Ap Or, Ba,, Me)</text>
<ellipse cx="221.6" cy="419.35" rx="5.8" ry="4.85" fill="none" stroke="#111" stroke-width="1.05"/>
<ellipse cx="238.6" cy="419.35" rx="5.8" ry="4.85" fill="none" stroke="#111" stroke-width="1.05"/>
<ellipse cx="255.4" cy="419.35" rx="5.8" ry="4.85" fill="none" stroke="#111" stroke-width="1.05"/>
<ellipse cx="274.2" cy="419.35" rx="5.8" ry="4.85" fill="none" stroke="#111" stroke-width="1.05"/>
<ellipse cx="289.3" cy="419.35" rx="5.8" ry="4.85" fill="none" stroke="#111" stroke-width="1.05"/>
<ellipse cx="306.7" cy="419.35" rx="5.8" ry="4.85" fill="none" stroke="#111" stroke-width="1.05"/>
<ellipse cx="323.4" cy="419.35" rx="5.8" ry="4.85" fill="none" stroke="#111" stroke-width="1.05"/>
<ellipse cx="340.4" cy="419.35" rx="5.8" ry="4.85" fill="none" stroke="#111" stroke-width="1.05"/>
<ellipse cx="357.4" cy="419.35" rx="5.8" ry="4.85" fill="none" stroke="#111" stroke-width="1.05"/>
<ellipse cx="374.4" cy="419.35" rx="5.8" ry="4.85" fill="none" stroke="#111" stroke-width="1.05"/>
<ellipse cx="391.3" cy="419.35" rx="5.8" ry="4.85" fill="none" stroke="#111" stroke-width="1.05"/>
<ellipse cx="408.5" cy="419.35" rx="5.8" ry="4.85" fill="none" stroke="#111" stroke-width="1.05"/>
<ellipse cx="425.2" cy="419.35" rx="5.8" ry="4.85" fill="none" stroke="#111" stroke-width="1.05"/>
<ellipse cx="442.6" cy="419.35" rx="5.8" ry="4.85" fill="none" stroke="#111" stroke-width="1.05"/>
<ellipse cx="459.6" cy="419.35" rx="5.8" ry="4.85" fill="none" stroke="#111" stroke-width="1.05"/>
<ellipse cx="476.5" cy="419.35" rx="5.8" ry="4.85" fill="none" stroke="#111" stroke-width="1.05"/>
<ellipse cx="493.5" cy="419.35" rx="5.8" ry="4.85" fill="none" stroke="#111" stroke-width="1.05"/>
<ellipse cx="510.5" cy="419.35" rx="5.8" ry="4.85" fill="none" stroke="#111" stroke-width="1.05"/>
<ellipse cx="527.1" cy="419.35" rx="5.8" ry="4.85" fill="none" stroke="#111" stroke-width="1.05"/>
<ellipse cx="544.6" cy="419.35" rx="5.8" ry="4.85" fill="none" stroke="#111" stroke-width="1.05"/>
<ellipse cx="561.6" cy="419.35" rx="5.8" ry="4.85" fill="none" stroke="#111" stroke-width="1.05"/>
<ellipse cx="578.5" cy="419.35" rx="5.8" ry="4.85" fill="none" stroke="#111" stroke-width="1.05"/>
<ellipse cx="595.5" cy="419.35" rx="5.8" ry="4.85" fill="none" stroke="#111" stroke-width="1.05"/>
<ellipse cx="610.5" cy="419.35" rx="5.8" ry="4.85" fill="none" stroke="#111" stroke-width="1.05"/>
<ellipse cx="622.3" cy="419.35" rx="5.8" ry="4.85" fill="none" stroke="#111" stroke-width="1.05"/>
<ellipse cx="635.5" cy="419.35" rx="5.8" ry="4.85" fill="none" stroke="#111" stroke-width="1.05"/>
<text x="27.3" y="434.50" font-size="9.2" fill="#111" stroke="#111" stroke-width="0.12">Garlic and Herb Bread</text>
<ellipse cx="221.6" cy="430.90" rx="5.8" ry="4.85" fill="none" stroke="#111" stroke-width="1.05"/>
<ellipse cx="238.6" cy="430.90" rx="5.8" ry="4.85" fill="none" stroke="#111" stroke-width="1.05"/>
<ellipse cx="255.4" cy="430.90" rx="5.8" ry="4.85" fill="none" stroke="#111" stroke-width="1.05"/>
<ellipse cx="274.2" cy="430.90" rx="5.8" ry="4.85" fill="none" stroke="#111" stroke-width="1.05"/>
<ellipse cx="289.3" cy="430.90" rx="5.8" ry="4.85" fill="none" stroke="#111" stroke-width="1.05"/>
<ellipse cx="306.7" cy="430.90" rx="5.8" ry="4.85" fill="none" stroke="#111" stroke-width="1.05"/>
<ellipse cx="323.4" cy="430.90" rx="5.8" ry="4.85" fill="none" stroke="#111" stroke-width="1.05"/>
<ellipse cx="340.4" cy="430.90" rx="5.8" ry="4.85" fill="none" stroke="#111" stroke-width="1.05"/>
<ellipse cx="357.4" cy="430.90" rx="5.8" ry="4.85" fill="none" stroke="#111" stroke-width="1.05"/>
<ellipse cx="374.4" cy="430.90" rx="5.8" ry="4.85" fill="none" stroke="#111" stroke-width="1.05"/>
<ellipse cx="391.3" cy="430.90" rx="5.8" ry="4.85" fill="none" stroke="#111" stroke-width="1.05"/>
<ellipse cx="408.5" cy="430.90" rx="6.1" ry="5.1" fill="#000"/>
<ellipse cx="425.2" cy="430.90" rx="5.8" ry="4.85" fill="none" stroke="#111" stroke-width="1.05"/>
<path d="M436.40 431.30 L448.80 431.30 A6.2 5.2 0 0 1 436.40 431.30 Z" fill="#000"/>
<ellipse cx="459.6" cy="430.90" rx="5.8" ry="4.85" fill="none" stroke="#111" stroke-width="1.05"/>
<ellipse cx="476.5" cy="430.90" rx="5.8" ry="4.85" fill="none" stroke="#111" stroke-width="1.05"/>
<ellipse cx="493.5" cy="430.90" rx="5.8" ry="4.85" fill="none" stroke="#111" stroke-width="1.05"/>
<ellipse cx="510.5" cy="430.90" rx="5.8" ry="4.85" fill="none" stroke="#111" stroke-width="1.05"/>
<ellipse cx="527.1" cy="430.90" rx="5.8" ry="4.85" fill="none" stroke="#111" stroke-width="1.05"/>
<ellipse cx="544.6" cy="430.90" rx="6.1" ry="5.1" fill="#000"/>
<ellipse cx="561.6" cy="430.90" rx="5.8" ry="4.85" fill="none" stroke="#111" stroke-width="1.05"/>
<ellipse cx="578.5" cy="430.90" rx="5.8" ry="4.85" fill="none" stroke="#111" stroke-width="1.05"/>
<ellipse cx="595.5" cy="430.90" rx="5.8" ry="4.85" fill="none" stroke="#111" stroke-width="1.05"/>
<ellipse cx="610.5" cy="430.90" rx="5.8" ry="4.85" fill="none" stroke="#111" stroke-width="1.05"/>
<ellipse cx="622.3" cy="430.90" rx="6.1" ry="5.1" fill="#000"/>
<ellipse cx="635.5" cy="430.90" rx="5.8" ry="4.85" fill="none" stroke="#111" stroke-width="1.05"/>
</svg></body></html>
